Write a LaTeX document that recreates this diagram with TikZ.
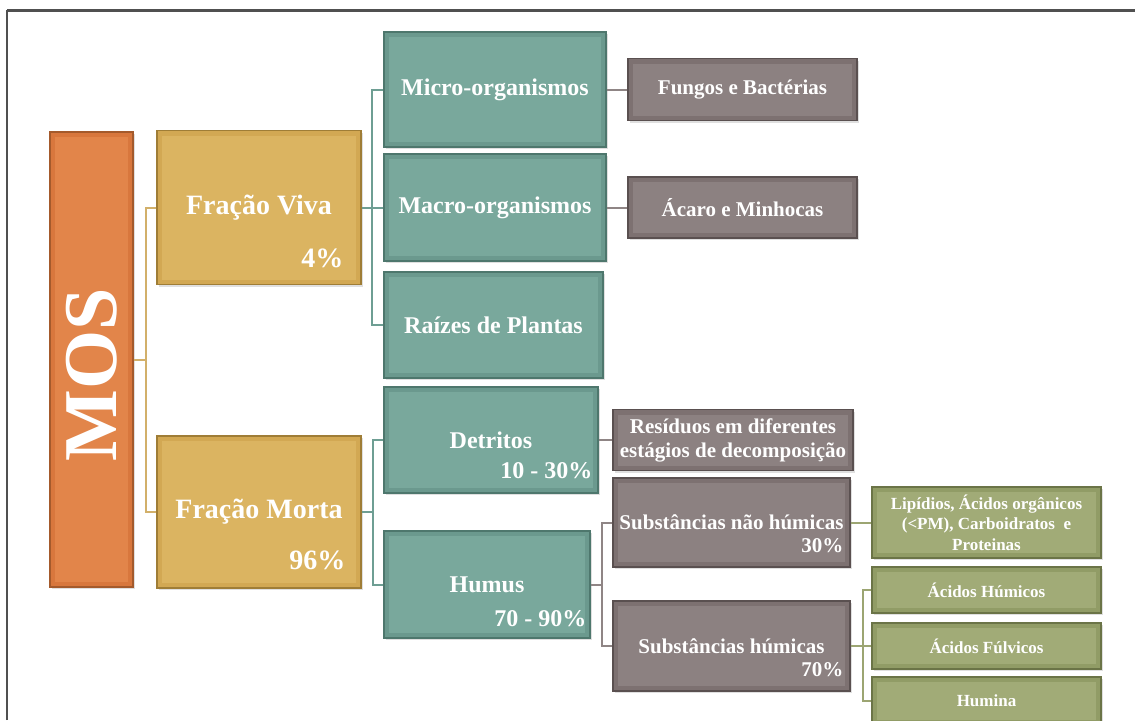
\documentclass[tikz,border=0pt]{standalone}
\usepackage{fontspec}
\setmainfont{Liberation Serif}
\usetikzlibrary{positioning,shadows}

\definecolor{mosline}{HTML}{A45A2C}
\definecolor{mosfill}{HTML}{D8773D}
\definecolor{mosin}{HTML}{E2854A}
\definecolor{goldline}{HTML}{9F7D36}
\definecolor{goldfill}{HTML}{D2A853}
\definecolor{goldin}{HTML}{DBB461}
\definecolor{tealline}{HTML}{4E776D}
\definecolor{tealfill}{HTML}{6B998E}
\definecolor{tealin}{HTML}{79A89C}
\definecolor{mauveline}{HTML}{5A5050}
\definecolor{mauvefill}{HTML}{7D7171}
\definecolor{mauvein}{HTML}{8C8181}
\definecolor{oliveline}{HTML}{6B7447}
\definecolor{olivefill}{HTML}{919C66}
\definecolor{olivein}{HTML}{A1AB77}
\definecolor{goldlink}{HTML}{D2B06A}
\definecolor{teallink}{HTML}{6E9E93}
\definecolor{greylink}{HTML}{8F8585}
\definecolor{olivelink}{HTML}{9CA572}
\definecolor{framegrey}{HTML}{505050}

\begin{document}
\begin{tikzpicture}[
    x=0.5pt, y=-0.5pt,
    bx/.style n args={3}{draw=#1, fill=#2, line width=0.7pt, text=white, inner sep=0pt,
        drop shadow={shadow xshift=1pt, shadow yshift=-1.2pt, opacity=0.25},
        path picture={\fill[#3] ([shift={(2.5pt,-2.5pt)}]path picture bounding box.north west)
            rectangle ([shift={(-2.5pt,2.5pt)}]path picture bounding box.south east);}},
    sz/.style 2 args={minimum width=#1*0.5pt, minimum height=#2*0.5pt},
    mosbox/.style={bx={mosline}{mosfill}{mosin}},
    goldbox/.style={bx={goldline}{goldfill}{goldin}, font=\bfseries\fontsize{14}{16}\selectfont},
    tealbox/.style={bx={tealline}{tealfill}{tealin}, font=\bfseries\fontsize{12}{14}\selectfont},
    mauvebox/.style={bx={mauveline}{mauvefill}{mauvein}, font=\bfseries\fontsize{10.5}{12}\selectfont, align=center},
    olivebox/.style={bx={oliveline}{olivefill}{olivein}, font=\bfseries\fontsize{8.5}{10.2}\selectfont, align=center},
    pct/.style={text=white, inner sep=0pt, anchor=east, font=\bfseries\fontsize{#1}{#1}\selectfont},
    link/.style={draw=#1, line width=1pt}
]
\path[use as bounding box, clip] (0,0) rectangle (1135,720);
\draw[framegrey, line width=0.8pt] (7,720) -- (7,10);
\draw[framegrey, line width=1.5pt] (7,10) -- (1135,10);

% raiz
\node[mosbox, sz={83}{455}] (mos) at (91.5,359.5)
    {\rotatebox{90}{\bfseries\fontsize{38}{38}\selectfont MOS\hspace*{15pt}}};

% fracoes
\node[goldbox, sz={204}{154}] (fv) at (259,207.5) {Fração Viva};
\node[pct=14] (fvp) at ([xshift=-9pt, yshift=13.5pt]fv.south east) {4\%};
\node[goldbox, sz={204}{152}] (fm) at (259,512) {Fração Morta};
\node[pct=14] (fmp) at ([xshift=-8pt, yshift=14pt]fm.south east) {96\%};

% segundo nivel
\node[tealbox, sz={222}{115}] (micro) at (495,89.5) {Micro-organismos};
\node[tealbox, sz={222}{107}] (macro) at (495,207.5) {Macro-organismos};
\node[tealbox, sz={219}{106}] (raizes) at (493.5,325) {Raízes de Plantas};
\node[tealbox, sz={214}{106}] (detritos) at (491,440) {Detritos};
\node[pct=12] (detp) at ([xshift=-3pt, yshift=11.5pt]detritos.south east) {10 - 30\%};
\node[tealbox, sz={206}{107}] (humus) at (487,584.5) {Humus};
\node[pct=12] (hump) at ([xshift=-2pt, yshift=10pt]humus.south east) {70 - 90\%};

% terceiro nivel
\node[mauvebox, sz={229}{62}] (fungos) at (742.5,89.5) {Fungos e Bactérias};
\node[mauvebox, sz={229}{61}] (acaro) at (742.5,207.5) {Ácaro e Minhocas};
\node[mauvebox, sz={240}{61}] (residuos) at (733,440) {Resíduos em diferentes\\estágios de decomposição};
\node[mauvebox, sz={237}{89}] (naohum) at (731.5,522.5) {Substâncias não húmicas};
\node[pct=10.5] (naop) at ([xshift=-3.5pt, yshift=11pt]naohum.south east) {30\%};
\node[mauvebox, sz={237}{90}] (humicas) at (731.5,646) {Substâncias húmicas};
\node[pct=10.5] (hump2) at ([xshift=-3.5pt, yshift=11pt]humicas.south east) {70\%};

% quarto nivel
\node[olivebox, sz={229}{71}] (lipidios) at (986.5,522.5)
    {Lipídios, Ácidos orgânicos\\(<PM), Carboidratos~~e\\Proteinas};
\node[olivebox, sz={229}{46}] (achum) at (986.5,590) {Ácidos Húmicos};
\node[olivebox, sz={229}{46}] (acful) at (986.5,646) {Ácidos Fúlvicos};
\node[olivebox, sz={229}{48}] (humina) at (986.5,701) {Humina};

% ligacoes
\coordinate (jmos) at (146,359.5);
\coordinate (jviva) at (372,207.5);
\coordinate (jmorta) at (373,512);
\coordinate (jhumus) at (602,584.5);
\coordinate (jhumicas) at (863,646);

\draw[link=goldlink] (mos.east) -- (jmos);
\draw[link=goldlink] (fv.west) -| (jmos) |- (fm.west);
\draw[link=teallink] (fv.east) -- (macro.west);
\draw[link=teallink] (micro.west) -| (jviva) |- (raizes.west);
\draw[link=teallink] (fm.east) -- (jmorta);
\draw[link=teallink] (detritos.west) -| (jmorta) |- (humus.west);
\draw[link=greylink] (micro.east) -- (fungos.west);
\draw[link=greylink] (macro.east) -- (acaro.west);
\draw[link=greylink] (detritos.east) -- (residuos.west);
\draw[link=greylink] (humus.east) -- (jhumus);
\draw[link=greylink] (naohum.west) -| (jhumus) |- (humicas.west);
\draw[link=olivelink] (naohum.east) -- (lipidios.west);
\draw[link=olivelink] (humicas.east) -- (acful.west);
\draw[link=olivelink] (achum.west) -| (jhumicas) |- (humina.west);
\end{tikzpicture}
\end{document}
